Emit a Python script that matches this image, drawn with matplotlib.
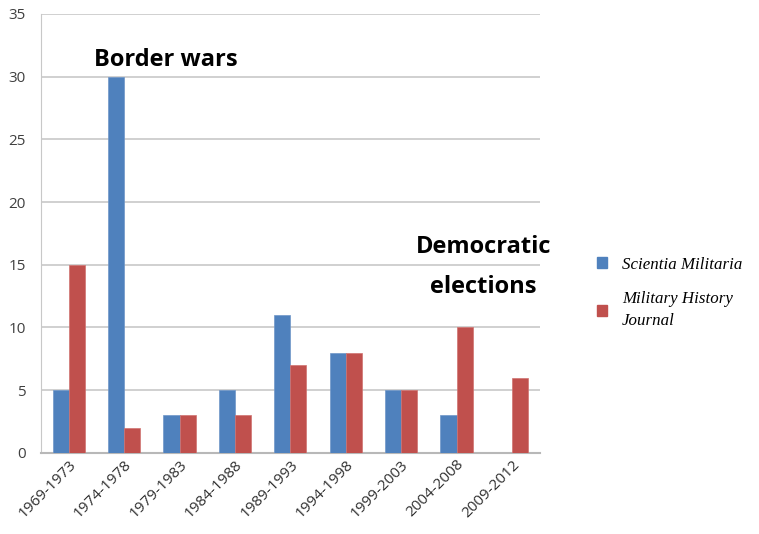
import matplotlib
matplotlib.use("Agg")
import matplotlib.pyplot as plt
import numpy as np
from matplotlib.patches import Patch

categories = ["1969-1973", "1974-1978", "1979-1983", "1984-1988", "1989-1993",
              "1994-1998", "1999-2003", "2004-2008", "2009-2012"]
scientia = [5, 30, 3, 5, 11, 8, 5, 3, 0]
mhj = [15, 2, 3, 3, 7, 8, 5, 10, 6]
series_names = ["Scientia Militaria", "Military History\nJournal"]
colors = ["#4F81BD", "#C0504D"]

fig = plt.figure(figsize=(7.59, 5.34), dpi=100)
ax = fig.add_axes([0.054, 0.152, 0.657, 0.822])

x = np.arange(len(categories))
w = 0.29
ax.bar(x - w/2, scientia, w, color=colors[0], edgecolor="#6f96c8", linewidth=0.5, zorder=3)
ax.bar(x + w/2, mhj, w, color=colors[1], edgecolor="#d07270", linewidth=0.5, zorder=3)

ax.set_xlim(-0.5, len(categories) - 0.5)
ax.set_ylim(0, 35)
ax.set_yticks(range(0, 36, 5))
ax.yaxis.grid(True, color="#c8c8c8", linewidth=1.2, zorder=0)
for s in ["top", "right"]:
    ax.spines[s].set_visible(False)
ax.spines["left"].set_color("#c8c8c8")
ax.spines["bottom"].set_color("#b8b8b8")
ax.spines["bottom"].set_linewidth(1.5)
ax.tick_params(axis="both", length=0, colors="#404040", labelsize=11)
ax.tick_params(axis="y", pad=11)
ax.tick_params(axis="x", pad=3)
ax.set_xticks(x)
ax.set_xticklabels(categories, rotation=45, ha="right", rotation_mode="anchor",
                   fontsize=11, family="Open Sans", color="#303030")
for t in ax.get_yticklabels():
    t.set_family("Open Sans")

ax.text(1.76, 31.3, "Border wars", fontsize=17, fontweight="bold",
        family="Open Sans", ha="center", va="center", color="black")
ax.text(7.48, 16.4, "Democratic", fontsize=17, fontweight="bold",
        family="Open Sans", ha="center", va="center", color="black")
ax.text(7.48, 13.2, "elections", fontsize=17, fontweight="bold",
        family="Open Sans", ha="center", va="center", color="black")

handles = [Patch(color=c) for c in colors]
leg = fig.legend(handles, series_names, loc="upper left", bbox_to_anchor=(0.766, 0.548),
                 frameon=False, handlelength=0.6, handleheight=0.6,
                 prop={"family": "Liberation Serif", "style": "italic", "size": 12.2},
                 labelspacing=1.1, handletextpad=0.9)
for t in leg.get_texts():
    t.set_linespacing(1.5)

fig.savefig("out.png", dpi=100)
